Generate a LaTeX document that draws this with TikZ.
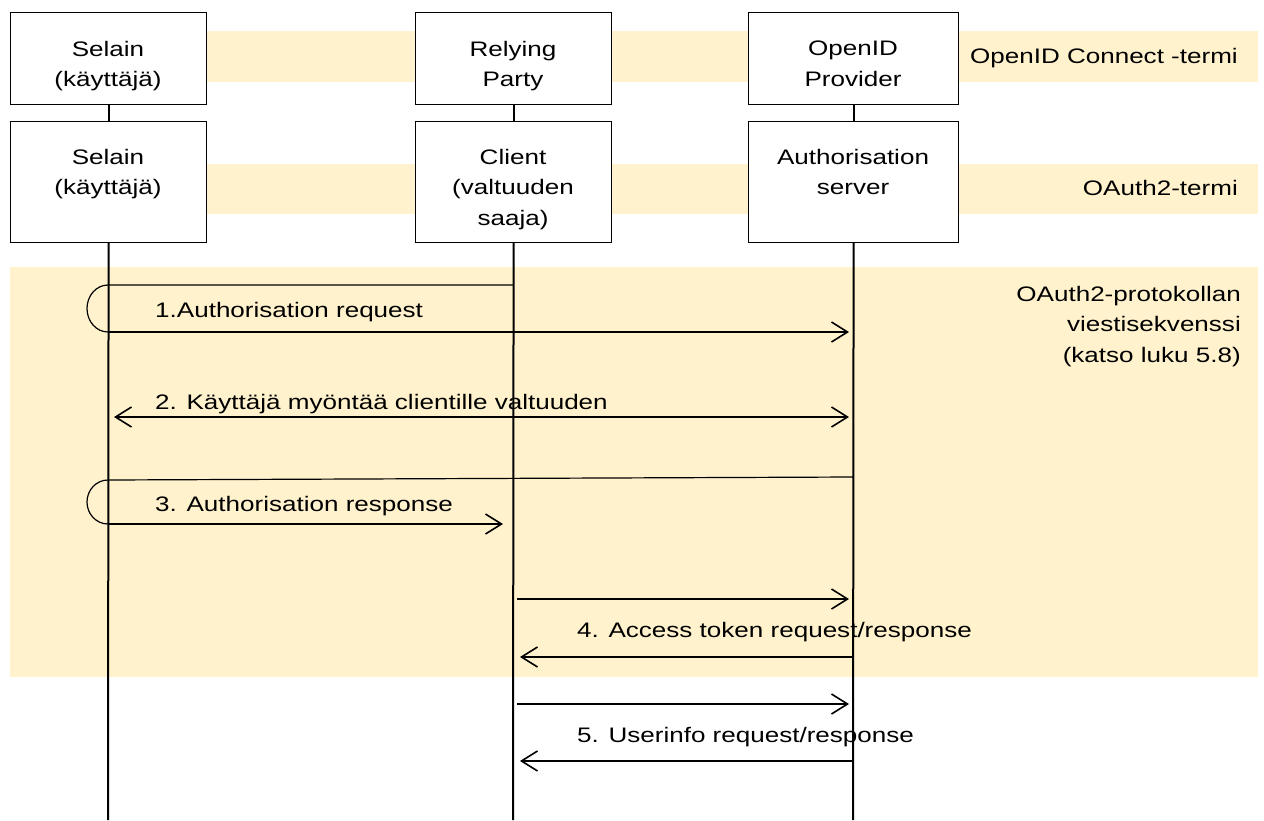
\documentclass[tikz,border=0pt]{standalone}
\usepackage{fontspec}
\setmainfont{Liberation Sans}[FakeStretch=1.24]
\usetikzlibrary{arrows.meta}
\definecolor{bandfill}{RGB}{255,242,204}

\begin{document}
\begin{tikzpicture}[x=1pt,y=-1pt,
  font=\fontsize{21}{30.5}\selectfont,
  band/.style={fill=bandfill, draw=none},
  box/.style={draw, line width=1.2pt, fill=white, inner sep=0pt, anchor=north west},
  boxtext/.style={anchor=north, align=center, inner sep=0pt},
  life/.style={line width=2pt},
  loopline/.style={line width=1.2pt},
  barb/.tip={Straight Barb[length=16pt,width=20pt,line width=1.6pt]},
  msg/.style={line width=1.8pt, -barb},
  msgboth/.style={line width=1.8pt, barb-barb},
  lbl/.style={anchor=base west, inner sep=0pt},
  side/.style={anchor=base east, inner sep=0pt, align=right}]

\useasboundingbox (0,0) rectangle (1264,820);

% background bands
\fill[band] (205,31) rectangle (1258,82);
\fill[band] (205,164) rectangle (1258,214);
\fill[band] (10,267) rectangle (1258,677);

% OpenID Connect row
\node[box, minimum width=196pt, minimum height=92pt] (selA) at (10,12) {};
\node[box, minimum width=196pt, minimum height=92pt] (rp) at (415,12) {};
\node[box, minimum width=210pt, minimum height=92pt] (op) at (748,12) {};
\node[boxtext] (selAt) at (108,41) {Selain\\(käyttäjä)};
\node[boxtext] (rpt) at (513,41) {Relying\\Party};
\node[boxtext] (opt) at (853,41) {OpenID\\Provider};

% OAuth2 row
\node[box, minimum width=196pt, minimum height=121pt] (selB) at (10,121) {};
\node[box, minimum width=196pt, minimum height=121pt] (cl) at (415,121) {};
\node[box, minimum width=210pt, minimum height=121pt] (as) at (748,121) {};
\node[boxtext] (selBt) at (108,149) {Selain\\(käyttäjä)};
\node[boxtext] (clt) at (513,149) {Client\\(valtuuden\\saaja)};
\node[boxtext] (ast) at (853,149) {Authorisation\\server};

% side captions
\node[side] (oidc) at (1238,63) {OpenID Connect -termi};
\node[side] (oa2) at (1238,195) {OAuth2-termi};
\node[side] (proto) at (1241,362) {OAuth2-protokollan\\viestisekvenssi\\(katso luku 5.8)};

% lifelines
\coordinate (endA) at (108,820);
\coordinate (endB) at (513,820);
\coordinate (endC) at (853,820);
\draw[life] (selA.south) -- (selB.north);
\draw[life] (rp.south) -- (cl.north);
\draw[life] (op.south) -- (as.north);
\draw[life] (selB.south) -- (endA);
\draw[life] (cl.south) -- (endB);
\draw[life] (as.south) -- (endC);

% message points on the lifelines
\coordinate (b1) at (513,285);
\coordinate (a1) at (108,285);
\coordinate (c1) at (853,332);
\coordinate (a2) at (108,417);
\coordinate (c2) at (853,417);
\coordinate (c3) at (853,477);
\coordinate (a3) at (108,480);
\coordinate (m3) at (503,524);
\coordinate (b4) at (513,599);
\coordinate (c4) at (853,599);
\coordinate (c4r) at (853,657);
\coordinate (b4r) at (513,657);
\coordinate (b5) at (513,704);
\coordinate (c5) at (853,704);
\coordinate (c5r) at (853,761);
\coordinate (b5r) at (513,761);

% 1. redirect through the browser
\draw[loopline] (b1) -- (a1) arc[start angle=270, end angle=90, x radius=21, y radius=23.5];
\draw[msg, shorten >=4pt] (108,332) -- (c1);
\node[lbl] (l1) at (155,317) {1.Authorisation request};

% 2. consent
\draw[msgboth, shorten <=6pt, shorten >=4pt] (a2) -- (c2);
\node[lbl] (l2) at (155,409) {2. Käyttäjä myöntää clientille valtuuden};

% 3. redirect back to the client
\draw[loopline] (c3) -- (a3) arc[start angle=270, end angle=90, x radius=21, y radius=22];
\draw[msg] (108,524) -- (m3);
\node[lbl] (l3) at (155,511) {3. Authorisation response};

% 4. token exchange
\draw[msg, shorten <=4pt, shorten >=4pt] (b4) -- (c4);
\draw[msg, shorten >=7pt] (c4r) -- (b4r);
\node[lbl] (l4) at (577,637) {4. Access token request/response};

% 5. userinfo
\draw[msg, shorten <=4pt, shorten >=4pt] (b5) -- (c5);
\draw[msg, shorten >=7pt] (c5r) -- (b5r);
\node[lbl] (l5) at (577,742) {5. Userinfo request/response};
\end{tikzpicture}
\end{document}
